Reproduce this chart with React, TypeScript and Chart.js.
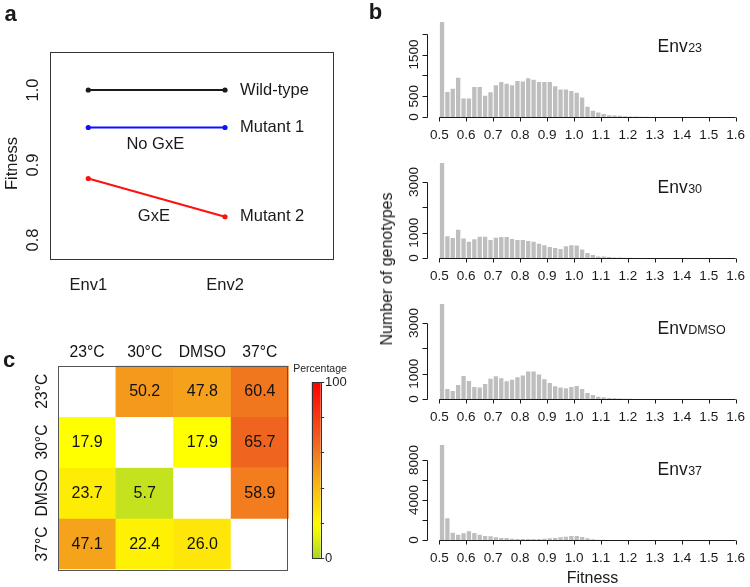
import React, { useEffect, useRef } from 'react';
import { Chart, registerables } from 'chart.js';

Chart.register(...registerables);

const FONT = '"Liberation Sans", Arial, Helvetica, sans-serif';
const INK = '#1a1a1a';

// ---------------- Panel a data ----------------
const envNames = ['Env1', 'Env2'];
const envPositions = [1, 2];
const wildTypeFitness = [1.0, 1.0];
const mutant1Fitness = [0.95, 0.95];
const mutant2Fitness = [0.882, 0.831];
const seriesNames = ['Wild-type', 'Mutant 1', 'Mutant 2'];
const fitnessTicksA = [0.8, 0.9, 1.0];
const fitnessTickLabelsA = ['0.8', '0.9', '1.0'];

// ---------------- Panel b data ----------------
const binCenters = [
  0.51, 0.53, 0.55, 0.57, 0.59, 0.61, 0.63, 0.65, 0.67, 0.69,
  0.71, 0.73, 0.75, 0.77, 0.79, 0.81, 0.83, 0.85, 0.87, 0.89,
  0.91, 0.93, 0.95, 0.97, 0.99, 1.01, 1.03, 1.05, 1.07, 1.09,
  1.11, 1.13, 1.15, 1.17, 1.19, 1.21, 1.23, 1.25, 1.27, 1.29,
];
const env23Counts = [
  2280, 600, 680, 940, 445, 445, 720, 720, 510, 595,
  760, 840, 800, 760, 865, 855, 930, 895, 840, 840,
  840, 740, 660, 660, 625, 585, 470, 245, 150, 110,
  70, 40, 35, 30, 20, 15, 12, 8, 5, 3,
];
const env30Counts = [
  3750, 855, 790, 1120, 765, 645, 740, 840, 840, 710,
  800, 830, 830, 750, 710, 710, 670, 645, 565, 500,
  435, 395, 355, 460, 500, 490, 340, 195, 120, 55,
  55, 40, 20, 15, 10, 5, 3, 2, 0, 0,
];
const envDmsoCounts = [
  3755, 395, 315, 555, 910, 715, 475, 450, 595, 805,
  900, 820, 700, 765, 860, 925, 1085, 1085, 965, 780,
  635, 500, 450, 425, 475, 515, 395, 240, 160, 90,
  65, 40, 25, 15, 10, 5, 3, 0, 0, 0,
];
const env37Counts = [
  9500, 2170, 730, 530, 670, 870, 700, 530, 400, 365,
  265, 200, 200, 135, 100, 100, 100, 100, 100, 135,
  165, 200, 265, 335, 400, 400, 300, 165, 70, 35,
  15, 10, 5, 0, 0, 0, 0, 0, 0, 0,
];
const fitnessAxisTicks = [0.5, 0.6, 0.7, 0.8, 0.9, 1.0, 1.1, 1.2, 1.3, 1.4, 1.5, 1.6];
const fitnessAxisLabels = ['0.5', '0.6', '0.7', '0.8', '0.9', '1.0', '1.1', '1.2', '1.3', '1.4', '1.5', '1.6'];
const env23Ticks = [0, 500, 1000, 1500, 2000];
const env23TickLabels = ['0', '500', '', '1500', ''];
const env30Ticks = [0, 1000, 2000, 3000];
const env30TickLabels = ['0', '1000', '', '3000'];
const envDmsoTicks = [0, 1000, 2000, 3000];
const envDmsoTickLabels = ['0', '1000', '', '3000'];
const env37Ticks = [0, 2000, 4000, 6000, 8000];
const env37TickLabels = ['0', '', '4000', '', '8000'];
const histYMax = [2520, 4145, 4150, 10500];

// ---------------- Panel c data ----------------
const conditions = ['23°C', '30°C', 'DMSO', '37°C'];
const row23 = [null, 50.2, 47.8, 60.4];
const row30 = [17.9, null, 17.9, 65.7];
const rowDmso = [23.7, 5.7, null, 58.9];
const row37 = [47.1, 22.4, 26.0, null];
const heatRows: (number | null)[][] = [row23, row30, rowDmso, row37];
const colorbarTicks = [0, 20, 40, 60, 80, 100];
const colorbarTickLabels = ['0', '', '', '', '', '100'];

// colour ramp (style)
const rampStops: [number, string][] = [
  [0, '#A8D52A'],
  [18, '#FFFF00'],
  [47.5, '#F6A21C'],
  [66, '#EF6420'],
  [100, '#FF0000'],
];
function hexToRgb(h: string) {
  const n = parseInt(h.slice(1), 16);
  return [(n >> 16) & 255, (n >> 8) & 255, n & 255];
}
function rampColor(v: number) {
  for (let i = 0; i < rampStops.length - 1; i++) {
    const [a, ca] = rampStops[i];
    const [b, cb] = rampStops[i + 1];
    if (v <= b || i === rampStops.length - 2) {
      const t = Math.max(0, Math.min(1, (v - a) / (b - a)));
      const A = hexToRgb(ca), B = hexToRgb(cb);
      const c = A.map((x, k) => Math.round(x + (B[k] - x) * t));
      return `rgb(${c[0]},${c[1]},${c[2]})`;
    }
  }
  return rampStops[rampStops.length - 1][1];
}

const baseOptions = {
  animation: false,
  responsive: false,
  maintainAspectRatio: false,
  events: [],
  plugins: { legend: { display: false }, tooltip: { enabled: false }, title: { display: false } },
};

// ---------------- Panel a ----------------
const panelAPlugin = {
  id: 'panelA',
  afterDraw(chart: any) {
    const { ctx, chartArea: a, scales } = chart;
    const x = scales.x, y = scales.y;
    ctx.save();
    ctx.strokeStyle = '#333';
    ctx.lineWidth = 1;
    ctx.strokeRect(Math.round(a.left) + 0.5, Math.round(a.top) + 0.5, Math.round(a.right - a.left), Math.round(a.bottom - a.top));
    ctx.fillStyle = INK;
    ctx.font = `16.5px ${FONT}`;
    ctx.textAlign = 'center';
    ctx.textBaseline = 'middle';
    fitnessTicksA.forEach((v, i) => {
      ctx.save();
      ctx.translate(33, y.getPixelForValue(v));
      ctx.rotate(-Math.PI / 2);
      ctx.fillText(fitnessTickLabelsA[i], 0, 0);
      ctx.restore();
    });
    envPositions.forEach((v, i) => ctx.fillText(envNames[i], x.getPixelForValue(v), 285));
    ctx.save();
    ctx.translate(12.5, 163.5);
    ctx.rotate(-Math.PI / 2);
    ctx.fillText('Fitness', 0, 0);
    ctx.restore();
    ctx.textAlign = 'left';
    const ends = [wildTypeFitness[1], mutant1Fitness[1], mutant2Fitness[1]];
    seriesNames.forEach((n, i) => ctx.fillText(n, x.getPixelForValue(2.11), y.getPixelForValue(ends[i])));
    ctx.textAlign = 'center';
    ctx.fillText('No GxE', x.getPixelForValue(1.49), y.getPixelForValue(0.927));
    ctx.fillText('GxE', x.getPixelForValue(1.48), y.getPixelForValue(0.831));
    ctx.restore();
  },
};

function lineSet(vals: number[], color: string) {
  return {
    data: envPositions.map((p, i) => ({ x: p, y: vals[i] })),
    borderColor: color,
    backgroundColor: color,
    borderWidth: 2,
    pointRadius: 2.6,
    pointBorderWidth: 0,
    tension: 0,
  };
}

const makePanelA = () => ({
  type: 'line',
  data: {
    datasets: [
      lineSet(wildTypeFitness, '#1a1a1a'),
      lineSet(mutant1Fitness, '#1010FF'),
      lineSet(mutant2Fitness, '#FF1010'),
    ],
  },
  options: {
    ...baseOptions,
    layout: { padding: { left: 50, top: 51.7, right: 36.7, bottom: 41.7 } },
    scales: {
      x: { type: 'linear', min: 0.72, max: 2.792, display: false },
      y: { type: 'linear', min: 0.7756, max: 1.0511, display: false },
    },
  },
  plugins: [panelAPlugin],
});

// ---------------- Panel b ----------------
function histPlugin(yTicks: number[], yLabels: string[], sub: string) {
  return {
    id: 'rAxes',
    afterDraw(chart: any) {
      const { ctx, scales } = chart;
      const x = scales.x, y = scales.y;
      const base = Math.round(y.getPixelForValue(0)) + 0.5;
      ctx.save();
      ctx.strokeStyle = INK;
      ctx.lineWidth = 1;
      ctx.beginPath();
      ctx.moveTo(x.getPixelForValue(fitnessAxisTicks[0]), base);
      ctx.lineTo(x.getPixelForValue(fitnessAxisTicks[fitnessAxisTicks.length - 1]), base);
      fitnessAxisTicks.forEach((t) => {
        const px = Math.round(x.getPixelForValue(t)) + 0.5;
        ctx.moveTo(px, base);
        ctx.lineTo(px, base + 4);
      });
      ctx.stroke();
      const ax = 47.5;
      ctx.beginPath();
      ctx.moveTo(ax, base);
      ctx.lineTo(ax, Math.round(y.getPixelForValue(yTicks[yTicks.length - 1])) + 0.5);
      yTicks.forEach((t) => {
        const py = Math.round(y.getPixelForValue(t)) + 0.5;
        ctx.moveTo(ax, py);
        ctx.lineTo(ax - 5, py);
      });
      ctx.stroke();
      ctx.fillStyle = INK;
      ctx.font = `13.5px ${FONT}`;
      ctx.textAlign = 'center';
      ctx.textBaseline = 'middle';
      fitnessAxisTicks.forEach((t, i) => ctx.fillText(fitnessAxisLabels[i], x.getPixelForValue(t), base + 17.3));
      yTicks.forEach((t, i) => {
        if (!yLabels[i]) return;
        ctx.save();
        ctx.translate(34.5, y.getPixelForValue(t));
        ctx.rotate(-Math.PI / 2);
        ctx.fillText(yLabels[i], 0, 0);
        ctx.restore();
      });
      // title "Env" + subscript
      ctx.textAlign = 'left';
      ctx.textBaseline = 'alphabetic';
      ctx.font = `17.5px ${FONT}`;
      const tx = 277.5, ty = base - 65.3;
      ctx.fillText('Env', tx, ty);
      const w = ctx.measureText('Env').width;
      ctx.font = `12.5px ${FONT}`;
      ctx.fillText(sub, tx + w + 0.5, ty);
      ctx.restore();
    },
  };
}

function makeHist(counts: number[], yMax: number, yTicks: number[], yLabels: string[], sub: string, height: number) {
  return () => ({
    type: 'bar',
    data: {
      datasets: [
        {
          data: binCenters.map((c, i) => ({ x: c, y: counts[i] })),
          backgroundColor: '#BEBEBE',
          borderWidth: 0,
          barPercentage: 0.8,
          categoryPercentage: 1,
        },
      ],
    },
    options: {
      ...baseOptions,
      layout: { padding: { left: 59.3, right: 14.3, top: 12, bottom: height - 117 } },
      scales: {
        x: { type: 'linear', min: 0.5, max: 1.6, offset: false, display: false },
        y: { type: 'linear', min: 0, max: yMax, display: false },
      },
    },
    plugins: [histPlugin(yTicks, yLabels, sub)],
  });
}

const makeEnv23 = makeHist(env23Counts, histYMax[0], env23Ticks, env23TickLabels, '23', 141);
const makeEnv30 = makeHist(env30Counts, histYMax[1], env30Ticks, env30TickLabels, '30', 141);
const makeEnvDmso = makeHist(envDmsoCounts, histYMax[2], envDmsoTicks, envDmsoTickLabels, 'DMSO', 141);
const makeEnv37 = makeHist(env37Counts, histYMax[3], env37Ticks, env37TickLabels, '37', 164);

// ---------------- Panel c ----------------
const heatPlugin = {
  id: 'heatText',
  afterDraw(chart: any) {
    const { ctx, chartArea: a } = chart;
    ctx.save();
    ctx.fillStyle = '#111';
    ctx.font = `16px ${FONT}`;
    ctx.textAlign = 'center';
    ctx.textBaseline = 'middle';
    heatRows.forEach((row, r) => {
      const meta = chart.getDatasetMeta(r);
      row.forEach((v, c) => {
        if (v == null) return;
        const el = meta.data[c];
        ctx.fillText(v.toFixed(1), el.x, (el.y + el.base) / 2 + 0.5);
      });
    });
    ctx.font = `15.7px ${FONT}`;
    const meta0 = chart.getDatasetMeta(0);
    conditions.forEach((name, c) => ctx.fillText(name, meta0.data[c].x, a.top - 13.4));
    conditions.forEach((name, r) => {
      const el = chart.getDatasetMeta(r).data[0];
      ctx.save();
      ctx.translate(42.7, (el.y + el.base) / 2);
      ctx.rotate(-Math.PI / 2);
      ctx.fillText(name, 0, 0);
      ctx.restore();
    });
    ctx.strokeStyle = '#555';
    ctx.lineWidth = 1;
    ctx.strokeRect(Math.round(a.left) + 0.5, Math.round(a.top) + 0.5, Math.round(a.right - a.left) - 1, Math.round(a.bottom - a.top));
    ctx.restore();
  },
};

const makeHeat = () => ({
  type: 'bar',
  data: {
    labels: conditions,
    datasets: heatRows.map((row, r) => ({
      label: conditions[r],
      data: row.map(() => 1),
      backgroundColor: row.map((v) => (v == null ? '#FFFFFF' : rampColor(v))),
      borderWidth: 0,
      barPercentage: 1,
      categoryPercentage: 1,
    })),
  },
  options: {
    ...baseOptions,
    layout: { padding: { left: 58.3, right: 1.3, top: 65.7, bottom: 17.7 } },
    scales: {
      x: { stacked: true, display: false },
      y: { stacked: true, min: 0, max: 4, reverse: true, display: false },
    },
  },
  plugins: [heatPlugin],
});

const colorbarPlugin = {
  id: 'colorbarAxis',
  afterDraw(chart: any) {
    const { ctx, chartArea: a, scales } = chart;
    const y = scales.y;
    ctx.save();
    ctx.strokeStyle = '#333';
    ctx.lineWidth = 1;
    ctx.strokeRect(Math.round(a.left) + 0.5, Math.round(a.top) + 0.5, Math.round(a.right - a.left), Math.round(a.bottom - a.top));
    ctx.beginPath();
    colorbarTicks.forEach((t) => {
      const py = Math.round(y.getPixelForValue(t)) + 0.5;
      ctx.moveTo(a.right, py);
      ctx.lineTo(a.right + 3.5, py);
    });
    ctx.stroke();
    ctx.fillStyle = '#222';
    ctx.font = `13px ${FONT}`;
    ctx.textAlign = 'left';
    ctx.textBaseline = 'middle';
    colorbarTicks.forEach((t, i) => {
      if (colorbarTickLabels[i]) ctx.fillText(colorbarTickLabels[i], 35, y.getPixelForValue(t));
    });
    ctx.textAlign = 'center';
    ctx.font = `10.5px ${FONT}`;
    ctx.fillText('Percentage', 30, 69);
    ctx.restore();
  },
};

const makeColorbar = () => ({
  type: 'bar',
  data: {
    labels: ['Percentage'],
    datasets: [
      {
        data: [[colorbarTicks[0], colorbarTicks[colorbarTicks.length - 1]]],
        backgroundColor: (c: any) => {
          const ch = c.chart;
          const ys = ch.scales && ch.scales.y;
          if (!ys || !ch.chartArea) return '#FFFF00';
          const g = ch.ctx.createLinearGradient(0, ys.getPixelForValue(0), 0, ys.getPixelForValue(100));
          for (let v = 0; v <= 100; v += 5) g.addColorStop(v / 100, rampColor(v));
          return g;
        },
        borderWidth: 0,
        barPercentage: 1,
        categoryPercentage: 1,
      },
    ],
  },
  options: {
    ...baseOptions,
    layout: { padding: { left: 21.7, right: 39.3, top: 82, bottom: 29 } },
    scales: {
      x: { display: false },
      y: { min: 0, max: 100, display: false },
    },
  },
  plugins: [colorbarPlugin],
});

// ---------------- Components ----------------
function ChartBox({ left, top, width, height, make }: { left: number; top: number; width: number; height: number; make: () => any }) {
  const ref = useRef<HTMLCanvasElement | null>(null);
  useEffect(() => {
    if (!ref.current) return;
    const chart = new Chart(ref.current, make());
    return () => chart.destroy();
  }, [make]);
  return (
    <canvas
      ref={ref}
      width={width}
      height={height}
      style={{ position: 'absolute', left, top, width, height, display: 'block' }}
    />
  );
}

function Label({ x, y, text, size, bold, rotate }: { x: number; y: number; text: string; size: number; bold?: boolean; rotate?: boolean }) {
  return (
    <div
      style={{
        position: 'absolute',
        left: x,
        top: y,
        transform: `translate(-50%, -50%)${rotate ? ' rotate(-90deg)' : ''}`,
        fontFamily: FONT,
        fontSize: size,
        fontWeight: bold ? 700 : 400,
        lineHeight: 1,
        whiteSpace: 'nowrap',
        color: INK,
      }}
    >
      {text}
    </div>
  );
}

export default function App() {
  return (
    <div
      style={{
        position: 'absolute',
        left: 0,
        top: 0,
        width: 750,
        height: 587,
        overflow: 'hidden',
        background: '#FFFFFF',
      }}
    >
      <ChartBox left={0} top={0} width={370} height={300} make={makePanelA} />
      <ChartBox left={380} top={0} width={370} height={141} make={makeEnv23} />
      <ChartBox left={380} top={141} width={370} height={141} make={makeEnv30} />
      <ChartBox left={380} top={282} width={370} height={141} make={makeEnvDmso} />
      <ChartBox left={380} top={423} width={370} height={164} make={makeEnv37} />
      <ChartBox left={0} top={300} width={290} height={287} make={makeHeat} />
      <ChartBox left={290} top={300} width={70} height={287} make={makeColorbar} />
      <Label x={10.5} y={14} text="a" size={22} bold />
      <Label x={375.5} y={12} text="b" size={22} bold />
      <Label x={9} y={360} text="c" size={22} bold />
      <Label x={387} y={269} text="Number of genotypes" size={16} rotate />
      <Label x={592.5} y={578} text="Fitness" size={16} />
    </div>
  );
}
